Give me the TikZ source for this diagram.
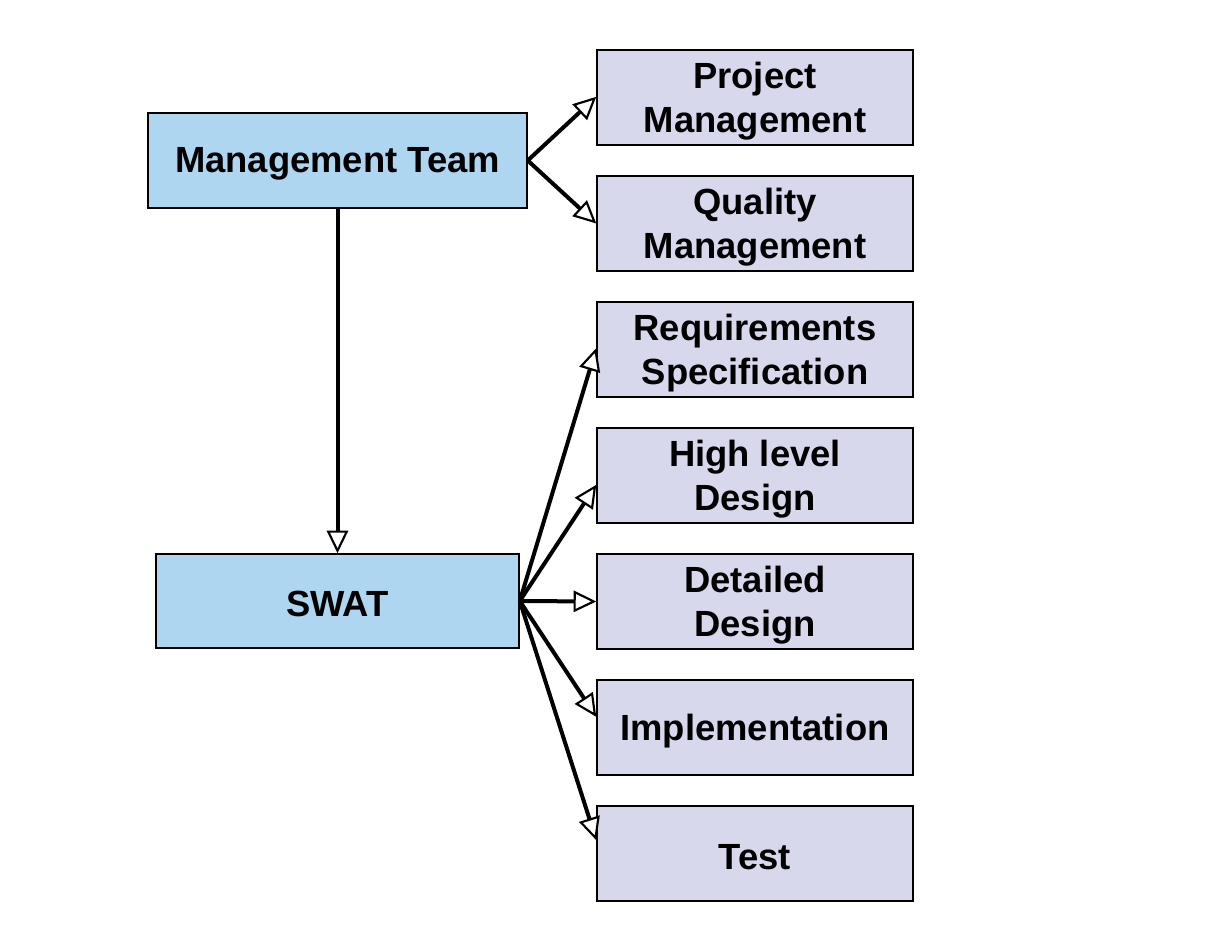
\documentclass[tikz,border=0pt]{standalone}
\usepackage{fontspec}
\setmainfont{Liberation Sans}
\usetikzlibrary{arrows.meta}
\definecolor{bluefill}{RGB}{174,214,241}
\definecolor{lavfill}{RGB}{216,216,236}
\begin{document}
\begin{tikzpicture}[x=0.75pt,y=-0.75pt,
  box/.style={draw=black,line width=1.1pt,inner sep=0pt},
  lbl/.style={align=center,inner sep=0pt,
    font=\fontsize{27.3}{33}\selectfont\bfseries},
  leftbox/.style={box,fill=bluefill,minimum height=71.25pt},
  rightbox/.style={box,fill=lavfill,minimum width=237pt,minimum height=71.25pt},
  conn/.style={line width=3pt,
    -{Triangle[fill=white,length=17pt,width=16pt,line width=1.6pt]}}]
\useasboundingbox (0,0) rectangle (1222,946);
\node[leftbox,minimum width=284.25pt] (mt) at (337.5,160.5) {};
\node[leftbox,minimum width=272.25pt,minimum height=70.5pt] (swat) at (337.5,601) {};
\node[rightbox] (pm) at (755,97.5) {};
\node[rightbox] (qm) at (755,223.5) {};
\node[rightbox] (rs) at (755,349.5) {};
\node[rightbox] (hl) at (755,475.5) {};
\node[rightbox] (dd) at (755,601.5) {};
\node[rightbox] (im) at (755,727.5) {};
\node[rightbox] (te) at (755,853.5) {};
\node[lbl] (mt-t) at ([yshift=-2.5pt]mt.center) {Management Team};
\node[lbl] (swat-t) at ([yshift=-2.5pt]swat.center) {SWAT};
\node[lbl] (pm-t) at ([yshift=-2.5pt]pm.center) {Project\\Management};
\node[lbl] (qm-t) at ([yshift=-2.5pt]qm.center) {Quality\\Management};
\node[lbl] (rs-t) at ([yshift=-2.5pt]rs.center) {Requirements\\Specification};
\node[lbl] (hl-t) at ([yshift=-2.5pt]hl.center) {High level\\Design};
\node[lbl] (dd-t) at ([yshift=-2.5pt]dd.center) {Detailed\\Design};
\node[lbl] (im-t) at ([yshift=-2.5pt]im.center) {Implementation};
\node[lbl] (te-t) at ([yshift=-2.5pt]te.center) {Test};
\draw[conn] (mt.east) -- ([yshift=0.5pt]pm.west);
\draw[conn] (mt.east) -- (qm.west);
\draw[conn] (mt.south) -- (swat.north);
\draw[conn] (swat.east) -- ([yshift=1pt]rs.west);
\draw[conn] (swat.east) -- ([yshift=-7pt]hl.west);
\draw[conn] (swat.east) -- (dd.west);
\draw[conn] (swat.east) -- ([yshift=8pt]im.west);
\draw[conn] (swat.east) -- ([yshift=10pt]te.west);
\end{tikzpicture}
\end{document}
